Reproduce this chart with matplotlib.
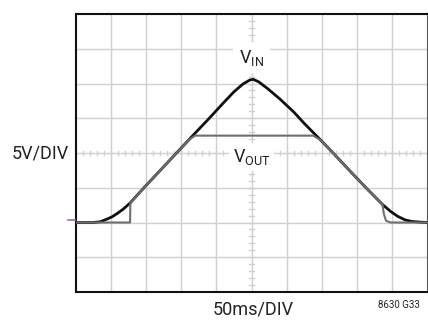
import numpy as np
import matplotlib.pyplot as plt

# scope traces, in divisions (x: 0..10 time, y: 0..8 from bottom)
vin_t = [0.0, 0.5, 0.7, 0.9, 1.05, 1.2, 1.35, 1.55, 2.0, 2.5, 3.0, 3.35, 3.8,
         4.2, 4.5, 4.75, 4.95, 5.05, 5.2, 5.45, 5.8, 6.2, 6.5, 6.84, 7.3,
         7.8, 8.3, 8.72, 8.95, 9.15, 9.35, 9.55, 9.8, 10.0]
vin_v = [2.0, 2.0, 2.02, 2.1, 2.17, 2.27, 2.38, 2.56, 3.06, 3.6, 4.14, 4.52,
         5.0, 5.44, 5.76, 5.98, 6.1, 6.12, 6.05, 5.86, 5.56, 5.18, 4.85,
         4.5, 4.02, 3.48, 2.95, 2.52, 2.32, 2.18, 2.08, 2.03, 2.01, 2.0]

vout_t = [0.0, 1.0, 1.55, 1.56, 2.0, 2.5, 3.0, 3.25, 3.4, 3.6, 5.0, 6.5,
          6.75, 6.95, 7.3, 7.8, 8.3, 8.72, 8.76, 8.82, 8.95, 9.2, 10.0]
vout_v = [2.0, 2.0, 2.0, 2.56, 3.06, 3.6, 4.14, 4.4, 4.5, 4.5, 4.5, 4.5,
          4.5, 4.38, 4.02, 3.48, 2.95, 2.52, 2.25, 2.05, 2.0, 2.0, 2.0]

plt.rcParams['font.family'] = ['Roboto', 'DejaVu Sans']

fig = plt.figure(figsize=(4.28, 3.2), dpi=100)
ax = fig.add_axes([75.5 / 428, 28 / 320, 352 / 428, 278 / 320])
ax.set_xlim(0, 10)
ax.set_ylim(0, 8)

grid_c = '#d0d0d0'
for i in range(1, 10):
    ax.axvline(i, color=grid_c, lw=1.0, zorder=1)
for j in range(1, 8):
    ax.axhline(j, color=grid_c, lw=1.0, zorder=1)

# minor ticks on centre lines
for k in np.arange(0, 10.01, 0.2):
    ax.plot([k, k], [3.93, 4.07], color=grid_c, lw=1.0, zorder=1)
for k in np.arange(0, 8.01, 0.2):
    ax.plot([4.93, 5.07], [k, k], color=grid_c, lw=1.0, zorder=1)

ax.plot(vin_t, vin_v, color='#111111', lw=2.0, zorder=3)
ax.plot(vout_t, vout_v, color='#6e6e6e', lw=1.5, zorder=4)

ax.text(5.0, 6.45, r'V$_\mathregular{IN}$', ha='center', va='bottom',
        fontsize=13, color='#222222', zorder=6,
        bbox=dict(facecolor='white', edgecolor='none', pad=4))
ax.text(5.0, 3.6, r'V$_\mathregular{OUT}$', ha='center', va='bottom',
        fontsize=13, color='#222222', zorder=6,
        bbox=dict(facecolor='white', edgecolor='none', pad=3))

ax.set_xticks([])
ax.set_yticks([])
for s in ax.spines.values():
    s.set_linewidth(1.5)
    s.set_color('#111111')
ax.spines['right'].set_color('#555555')

fig.text(40 / 428, 1 - 153 / 320, '5V/DIV', ha='center', va='center',
         fontsize=13, color='#222222')
fig.text(253 / 428, 1 - 309 / 320, '50ms/DIV', ha='center', va='center',
         fontsize=13, color='#222222')
fig.text(378 / 428, 1 - 305 / 320, '8630 G33', ha='left', va='center',
         fontsize=7, color='#222222')
# ground marker
fig.lines.append(plt.Line2D([68 / 428, 75 / 428], [1 - 220 / 320, 1 - 220 / 320],
                            color='#9070a0', lw=1.2, transform=fig.transFigure))

fig.savefig('out.png', dpi=100)
